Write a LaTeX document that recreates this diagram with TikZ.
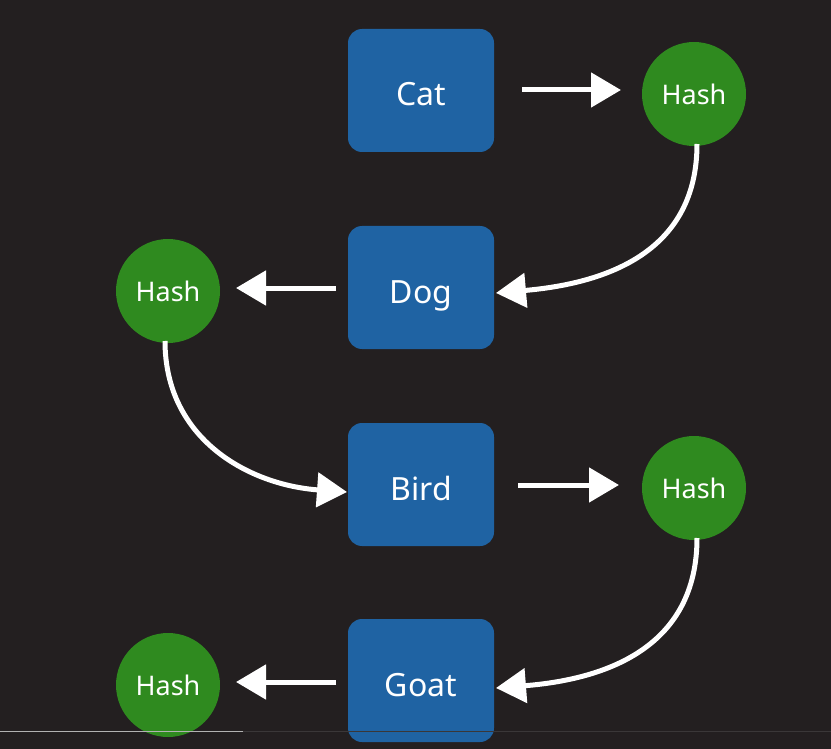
\documentclass[tikz,border=0pt]{standalone}
\usepackage{fontspec}
\setmainfont{Noto Sans}
\usetikzlibrary{arrows.meta}
\definecolor{bg}{HTML}{231F20}
\definecolor{boxblue}{HTML}{1F63A3}
\definecolor{hashgreen}{HTML}{2F8A1F}
\tikzset{
  itembox/.style={fill=boxblue, rounded corners=14pt, minimum width=146pt, minimum height=123pt, inner sep=0pt, text=white, text height=31pt, text depth=0pt, font=\fontsize{32}{32}\selectfont},
  hashnode/.style={circle, fill=hashgreen, minimum size=104pt, inner sep=0pt, text=white, font=\fontsize{27}{27}\selectfont},
  chalk/.style={draw=white, line width=5pt, -{Triangle[length=30pt,width=34pt]}}
}
\begin{document}
\begin{tikzpicture}[x=1pt,y=-1pt]
\fill[bg] (0,0) rectangle (831,749);
\useasboundingbox (0,0) rectangle (831,749);
\node[itembox] (cat) at (421,90.5) {Cat};
\node[itembox] (dog) at (421,287.5) {Dog};
\node[itembox] (bird) at (421,484.5) {Bird};
\node[itembox] (goat) at (421,680.5) {Goat};
\node[hashnode] (h1) at (694,94) {Hash};
\node[hashnode] (h2) at (168,291) {Hash};
\node[hashnode] (h3) at (694,488) {Hash};
\node[hashnode] (h4) at (168,685) {Hash};
\coordinate (a1s) at (522,90);
\coordinate (a1e) at (621,90);
\coordinate (a2s) at (336,288);
\coordinate (a2e) at (236,288);
\coordinate (a3s) at (518,485);
\coordinate (a3e) at (619,485);
\coordinate (a4s) at (336,682);
\coordinate (a4e) at (236,682);
\coordinate (c1s) at (697,144);
\coordinate (c1e) at (496,293);
\coordinate (c2s) at (165,341);
\coordinate (c2e) at (347,492);
\coordinate (c3s) at (697,538);
\coordinate (c3e) at (496,688);
\draw[chalk] (a1s) -- (a1e);
\draw[chalk] (a2s) -- (a2e);
\draw[chalk] (a3s) -- (a3e);
\draw[chalk] (a4s) -- (a4e);
\draw[chalk] (c1s) .. controls (697,250) and (610,283) .. (c1e);
\draw[chalk] (c2s) .. controls (165,440) and (250,485) .. (c2e);
\draw[chalk] (c3s) .. controls (697,645) and (610,679) .. (c3e);
\coordinate (sb1) at (0,731);
\coordinate (sb2) at (243,731);
\coordinate (sb3) at (831,731);
\draw[gray!60, line width=1pt] (sb1) -- (sb2);
\draw[gray!25!bg, line width=1pt] (sb2) -- (sb3);
\end{tikzpicture}
\end{document}
